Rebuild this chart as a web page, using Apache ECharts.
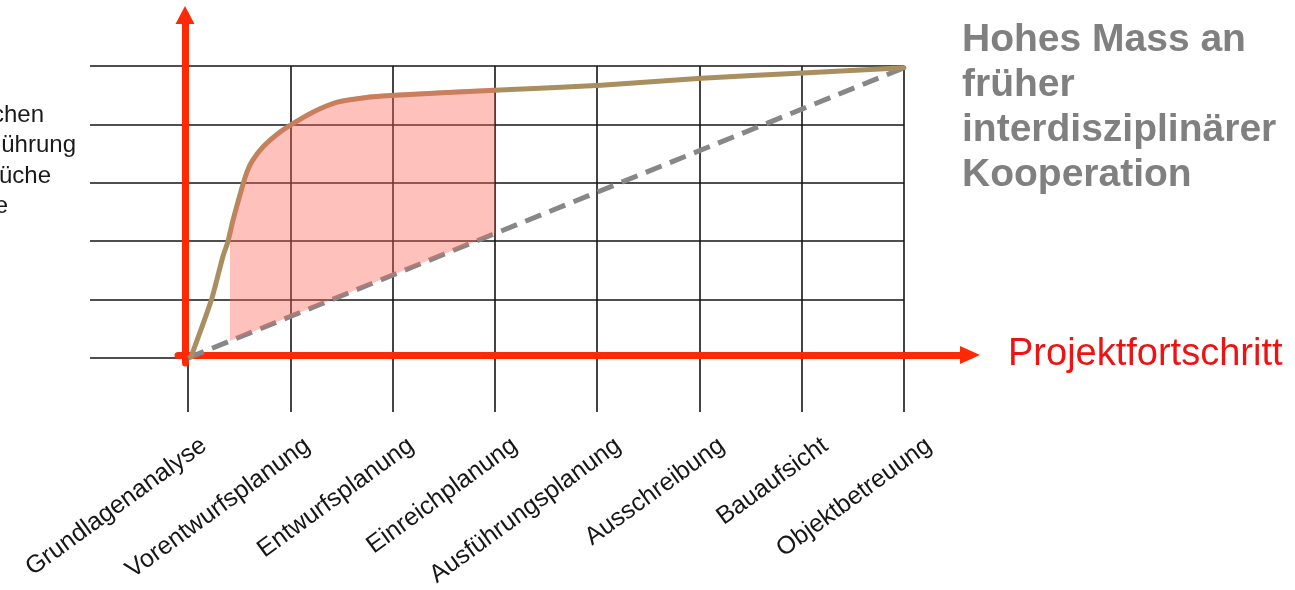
<!DOCTYPE html>
<html>
<head>
<meta charset="utf-8">
<script src="https://cdn.jsdelivr.net/npm/echarts@6/dist/echarts.min.js"></script>
<style>
  html, body { margin: 0; padding: 0; background: #ffffff; }
  #chart { width: 1295px; height: 590px; }
</style>
</head>
<body>
<div id="chart"></div>
<script>
// Project phases along the horizontal axis
const phases = [
  'Grundlagenanalyse', 'Vorentwurfsplanung', 'Entwurfsplanung', 'Einreichplanung',
  'Ausführungsplanung', 'Ausschreibung', 'Bauaufsicht', 'Objektbetreuung'
];

// Vertical scale levels (grid rows)
const levelMin = 0;
const levelMax = 5;
const levelStep = 1;

// Cooperation curve: [phase position, level]
const cooperationCurve = [
  [0.03, 0.02], [0.23, 1.00], [0.34, 1.73], [0.39, 1.99], [0.44, 2.36],
  [0.53, 2.93], [0.58, 3.20], [0.63, 3.38], [0.73, 3.61], [0.90, 3.87],
  [1.05, 4.04], [1.22, 4.21], [1.46, 4.38], [1.78, 4.47], [2.03, 4.50],
  [3.05, 4.59], [4.04, 4.67], [5.02, 4.79], [6.01, 4.88], [7.00, 4.97]
];

// Linear reference progression
const linearReference = [[0.00, 0.00], [7.00, 4.97]];

// Phase range where the gain over the linear progression is shaded
const shadedSpan = [0.41, 3.00];

// Text blocks
const sideNote = ['chen', 'ührung', 'üche', 'e'];
const noteTitle = ['Hohes Mass an', 'früher', 'interdisziplinärer', 'Kooperation'];
const axisTitle = 'Projektfortschritt';

const FONT = '"Liberation Sans", Arial, Helvetica, sans-serif';
const RED = '#ff2a05';
const GRID_LINE = { color: '#151515', width: 1.6 };

function interpolate(points, x) {
  for (let i = 1; i < points.length; i++) {
    const a = points[i - 1], b = points[i];
    if (x <= b[0]) {
      const t = (x - a[0]) / (b[0] - a[0]);
      return a[1] + t * (b[1] - a[1]);
    }
  }
  return points[points.length - 1][1];
}

const chart = echarts.init(document.getElementById('chart'), null, { renderer: 'canvas' });

const option = {
  animation: false,
  backgroundColor: '#ffffff',
  grid: [
    // 0: horizontal rows (extend further to the left)
    { left: 90, top: 66, width: 814, height: 292, outerBoundsMode: 'none', containLabel: false },
    // 1: data area with phase columns
    { left: 188, top: 66, width: 716, height: 292, outerBoundsMode: 'none', containLabel: false },
    // 2: phase names
    { left: 204, top: 66, width: 725, height: 292, outerBoundsMode: 'none', containLabel: false },
    // 3: horizontal arrow
    { left: 178, top: 300, width: 792, height: 55, outerBoundsMode: 'none', containLabel: false },
    // 4: vertical arrow
    { left: 185, top: 15, width: 100, height: 348, outerBoundsMode: 'none', containLabel: false }
  ],
  xAxis: [
    { gridIndex: 0, type: 'value', min: 0, max: 1, show: false },
    {
      gridIndex: 1, type: 'value', min: 0, max: phases.length - 1, interval: 1,
      axisLine: { show: false },
      axisTick: { show: true, length: 54, lineStyle: GRID_LINE },
      axisLabel: { show: false },
      splitLine: { show: true, lineStyle: GRID_LINE }
    },
    {
      gridIndex: 2, type: 'category', data: phases, boundaryGap: false,
      axisLine: { show: false }, axisTick: { show: false }, splitLine: { show: false },
      axisLabel: {
        show: true, interval: 0, rotate: 36, margin: 85,
        fontSize: 25, fontFamily: FONT, color: '#161616'
      }
    },
    {
      gridIndex: 3, type: 'value', min: 0, max: 1, z: 1,
      axisLine: {
        show: true, onZero: false, symbol: ['none', 'triangle'], symbolSize: [18, 20],
        lineStyle: { color: RED, width: 7 }
      },
      axisTick: { show: false }, axisLabel: { show: false }, splitLine: { show: false }
    },
    { gridIndex: 4, type: 'value', min: 0, max: 1, show: false }
  ],
  yAxis: [
    {
      gridIndex: 0, type: 'value', min: levelMin, max: levelMax, interval: levelStep,
      axisLine: { show: false }, axisTick: { show: false }, axisLabel: { show: false },
      splitLine: { show: true, lineStyle: GRID_LINE }
    },
    { gridIndex: 1, type: 'value', min: levelMin, max: levelMax, interval: levelStep, show: false },
    { gridIndex: 2, type: 'value', min: 0, max: 1, show: false },
    { gridIndex: 3, type: 'value', min: 0, max: 1, show: false },
    {
      gridIndex: 4, type: 'value', min: 0, max: 1, z: 1,
      axisLine: {
        show: true, onZero: false, symbol: ['none', 'triangle'], symbolSize: [19, 18],
        lineStyle: { color: RED, width: 7 }
      },
      axisTick: { show: false }, axisLabel: { show: false }, splitLine: { show: false }
    }
  ],
  series: [
    {
      name: 'Linear',
      type: 'line',
      xAxisIndex: 1, yAxisIndex: 1,
      data: linearReference,
      showSymbol: false, clip: false, z: 2,
      lineStyle: { color: '#878787', width: 5, type: [17, 9] }
    },
    {
      name: 'Kooperation',
      type: 'line',
      xAxisIndex: 1, yAxisIndex: 1,
      data: cooperationCurve,
      showSymbol: false, clip: false, z: 2, smooth: 0.2,
      lineStyle: { color: '#a98f5f', width: 5, cap: 'round', join: 'round' }
    },
    {
      name: 'Gewinn',
      type: 'custom',
      xAxisIndex: 1, yAxisIndex: 1,
      data: [[shadedSpan[0], shadedSpan[1]]],
      z: 3, clip: false,
      renderItem: function (params, api) {
        const x0 = shadedSpan[0], x1 = shadedSpan[1];
        const pts = [];
        const topXs = [x0];
        cooperationCurve.forEach(function (p) { if (p[0] > x0 && p[0] < x1) topXs.push(p[0]); });
        topXs.push(x1);
        topXs.forEach(function (x) {
          const c = api.coord([x, interpolate(cooperationCurve, x)]);
          pts.push([c[0], c[1] - 2.5]);
        });
        pts.push(api.coord([x1, interpolate(linearReference, x1)]));
        pts.push(api.coord([x0, interpolate(linearReference, x0)]));
        return {
          type: 'polygon',
          shape: { points: pts },
          style: { fill: 'rgba(255, 100, 88, 0.4)' }
        };
      }
    }
  ],
  graphic: [
    {
      type: 'text',
      style: {
        x: 962, y: 18, text: noteTitle.join('\n'),
        font: 'bold 39px ' + FONT, lineHeight: 45,
        fill: '#808080', align: 'left', verticalAlign: 'top'
      }
    },
    {
      type: 'text',
      style: {
        x: 1008, y: 355, text: axisTitle,
        font: '38px ' + FONT, fill: '#ee1313',
        align: 'left', verticalAlign: 'middle'
      }
    }
  ].concat(sideNote.map(function (t, i) {
    const rightEdges = [44, 76, 51, 8];
    return {
      type: 'text',
      style: {
        x: rightEdges[i], y: 115 + i * 30.5, text: t,
        font: '24px ' + FONT, fill: '#1a1a1a',
        align: 'right', verticalAlign: 'middle'
      }
    };
  }))
};

chart.setOption(option);
</script>
</body>
</html>
